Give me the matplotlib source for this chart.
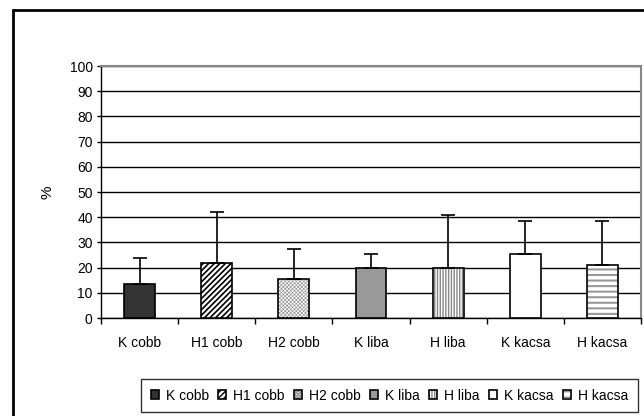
import matplotlib
matplotlib.use("Agg")
import matplotlib.pyplot as plt
from matplotlib.patches import Rectangle

plt.rcParams['font.family'] = ['Liberation Sans', 'DejaVu Sans']

# data
categories = ["K cobb", "H1 cobb", "H2 cobb", "K liba", "H liba", "K kacsa", "H kacsa"]
means = [13.6, 21.8, 15.6, 19.8, 19.8, 25.5, 21.1]
err_top = [24.0, 42.0, 27.2, 25.5, 40.8, 38.3, 38.3]
errors = [t - m for t, m in zip(err_top, means)]

# fill style per bar
faces = ["#333333", "white", "white", "#999999", "white", "white", "white"]
hatches = [None, "//////", "xxxxxxxxx", None, "||||||", None, "---"]
hatch_cols = ["black", "black", "#999999", "black", "#888888", "black", "#999999"]
hatch_lw = [1.0, 1.2, 0.5, 1.0, 1.0, 1.0, 1.5]

fig = plt.figure(figsize=(6.44, 4.16), dpi=100)
ax = fig.add_axes([101/644, 1 - 318/416, 540/644, 252/416])

x = list(range(len(categories)))
handles = []
for i in x:
    with plt.rc_context({'hatch.linewidth': hatch_lw[i]}):
        # hatched fill (hatch takes the edge colour), then a black outline on top
        fill = ax.bar(i, means[i], width=0.4, color=faces[i], edgecolor=hatch_cols[i],
                      linewidth=0, hatch=hatches[i], zorder=3)
    edge = ax.bar(i, means[i], width=0.4, fill=False, edgecolor="black",
                  linewidth=1.2, zorder=3.5)
    handles.append((fill[0], edge[0]))
    ax.errorbar(i, means[i], yerr=[[0], [errors[i]]], fmt="none", ecolor="black",
                elinewidth=1.2, capsize=5, capthick=1.2, zorder=4)

ax.set_xlim(-0.5, 6.5)
ax.set_ylim(0, 100)
ax.set_yticks(range(0, 101, 10))
ax.yaxis.grid(True, color="black", linewidth=1)
ax.set_axisbelow(True)
ax.set_xticks(x)
ax.set_xticklabels(categories)
ax.set_xticks([i - 0.5 for i in range(8)], minor=True)
ax.tick_params(axis="x", which="major", length=0, pad=13, labelsize=10)
ax.tick_params(axis="x", which="minor", length=4, width=1)
ax.tick_params(axis="y", length=3, width=1, labelsize=10, pad=3)
ax.set_ylabel("%", fontsize=11, labelpad=11)

for s in ["left", "bottom"]:
    ax.spines[s].set_color("black")
    ax.spines[s].set_linewidth(1)
for s in ["top", "right"]:
    ax.spines[s].set_color("#888888")
    ax.spines[s].set_linewidth(1.5)

# outer chart frame
fig.patches.append(Rectangle((13/644, -0.1), 1.2, 1 - 10/416 + 0.1, transform=fig.transFigure,
                             fill=False, edgecolor="black", linewidth=2, clip_on=False))

leg = fig.legend(handles, categories, loc="upper left", ncol=7,
                 bbox_to_anchor=(141/644, 1 - 379/416), borderaxespad=0, fontsize=10,
                 handlelength=0.6, handleheight=0.6, handletextpad=0.5,
                 columnspacing=0.65, borderpad=0.7, fancybox=False)
leg.get_frame().set_edgecolor("black")
leg.get_frame().set_linewidth(1)

fig.savefig("out.png", dpi=100)
